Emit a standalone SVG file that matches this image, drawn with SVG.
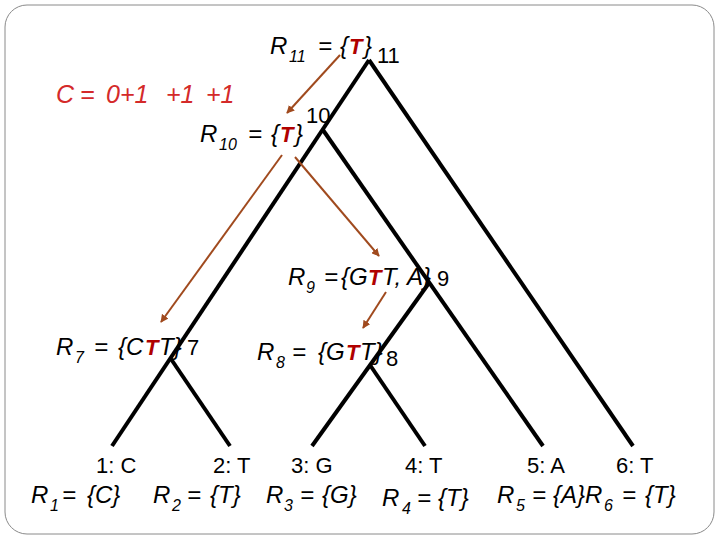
<svg xmlns="http://www.w3.org/2000/svg" width="720" height="540" viewBox="0 0 720 540">
<defs>
<style>
.lbl{font-family:"Liberation Sans",Arial,sans-serif;font-size:24px;font-style:italic;fill:#000}
.sub{font-size:16px}
.num{font-family:"Liberation Sans",Arial,sans-serif;font-size:22px;fill:#000}
.rt{font-size:22px;font-weight:bold;fill:#b00000}
.cost{font-family:"Liberation Sans",Arial,sans-serif;font-size:25px;font-style:italic;fill:#d42a2a}
.edge{stroke:#000;stroke-width:4;fill:none;stroke-linecap:butt}
.arr{stroke:#a04a1e;stroke-width:2;fill:none;marker-end:url(#ah)}
</style>
<marker id="ah" viewBox="0 0 10 10" refX="9" refY="5" markerWidth="4" markerHeight="4" orient="auto" markerUnits="strokeWidth">
<path d="M0,0 L10,5 L0,10 z" fill="#a04a1e"/>
</marker>
</defs>
<rect x="5" y="5" width="709" height="529" rx="22" fill="#fff" stroke="#8a8a8a" stroke-width="1"/>

<g id="connectors">
<line class="edge" x1="369" y1="60" x2="112" y2="446"/>
<line class="edge" x1="369" y1="60" x2="633" y2="446"/>
<line class="edge" x1="323" y1="130" x2="543" y2="446"/>
<line class="edge" x1="429" y1="283" x2="312" y2="446"/>
<line class="edge" x1="370" y1="365" x2="425" y2="446"/>
<line class="edge" x1="171" y1="359" x2="230" y2="446"/>
<line class="arr" x1="340" y1="55" x2="287" y2="113"/>
<line class="arr" x1="282" y1="155" x2="161" y2="322"/>
<line class="arr" x1="295" y1="157" x2="379" y2="256"/>
<line class="arr" x1="386" y1="292" x2="363" y2="328"/>
</g>

<g id="cost">
<text class="cost" y="103"><tspan x="56">C</tspan><tspan x="80">=</tspan><tspan x="106">0+1</tspan><tspan x="166">+1</tspan><tspan x="206">+1</tspan></text>
</g>

<g id="node11">
<text class="lbl" y="54"><tspan x="270">R</tspan><tspan class="sub" x="289" dy="8">11</tspan><tspan x="318" dy="-8">=</tspan><tspan x="340">{</tspan><tspan class="rt" x="349">T</tspan><tspan x="364">}</tspan></text>
<text class="num" x="377" y="63">11</text>
</g>

<g id="node10">
<text class="lbl" y="142"><tspan x="200">R</tspan><tspan class="sub" x="219" dy="8">10</tspan><tspan x="248" dy="-8">=</tspan><tspan x="271">{</tspan><tspan class="rt" x="280">T</tspan><tspan x="295">}</tspan></text>
<text class="num" x="306" y="123">10</text>
</g>

<g id="node9">
<text class="lbl" y="285"><tspan x="288">R</tspan><tspan class="sub" x="306" dy="8">9</tspan><tspan x="324" dy="-8">=</tspan><tspan x="341">{G</tspan><tspan class="rt" x="368">T</tspan><tspan x="382">T, A}</tspan></text>
<text class="num" x="437" y="286">9</text>
</g>

<g id="node7">
<text class="lbl" y="355"><tspan x="56">R</tspan><tspan class="sub" x="75" dy="8">7</tspan><tspan x="94" dy="-8">=</tspan><tspan x="118">{C</tspan><tspan class="rt" x="145">T</tspan><tspan x="159">T}</tspan></text>
<text class="num" x="187" y="355">7</text>
</g>

<g id="node8">
<text class="lbl" y="360"><tspan x="257">R</tspan><tspan class="sub" x="276" dy="8">8</tspan><tspan x="292" dy="-8">=</tspan><tspan x="318">{G</tspan><tspan class="rt" x="346">T</tspan><tspan x="360">T}</tspan></text>
<text class="num" x="386" y="366">8</text>
</g>

<g id="leaf1">
<text class="num" x="96" y="473">1: C</text>
<text class="lbl" y="503"><tspan x="31">R</tspan><tspan class="sub" x="50" dy="8">1</tspan><tspan x="62" dy="-8">=</tspan><tspan x="87">{C}</tspan></text>
</g>
<g id="leaf2">
<text class="num" x="213" y="473">2: T</text>
<text class="lbl" y="503"><tspan x="153">R</tspan><tspan class="sub" x="172" dy="8">2</tspan><tspan x="187" dy="-8">=</tspan><tspan x="210">{T}</tspan></text>
</g>
<g id="leaf3">
<text class="num" x="291" y="473">3: G</text>
<text class="lbl" y="503"><tspan x="266">R</tspan><tspan class="sub" x="284" dy="8">3</tspan><tspan x="300" dy="-8">=</tspan><tspan x="322">{G}</tspan></text>
</g>
<g id="leaf4">
<text class="num" x="405" y="473">4: T</text>
<text class="lbl" y="506"><tspan x="382">R</tspan><tspan class="sub" x="402" dy="8">4</tspan><tspan x="417" dy="-8">=</tspan><tspan x="438">{T}</tspan></text>
</g>
<g id="leaf5">
<text class="num" x="527" y="473">5: A</text>
<text class="lbl" y="503"><tspan x="497">R</tspan><tspan class="sub" x="516" dy="8">5</tspan><tspan x="532" dy="-8">=</tspan><tspan x="553">{A}</tspan></text>
</g>
<g id="leaf6">
<text class="num" x="616" y="473">6: T</text>
<text class="lbl" y="503"><tspan x="585">R</tspan><tspan class="sub" x="604" dy="8">6</tspan><tspan x="622" dy="-8">=</tspan><tspan x="645">{T}</tspan></text>
</g>
</svg>
